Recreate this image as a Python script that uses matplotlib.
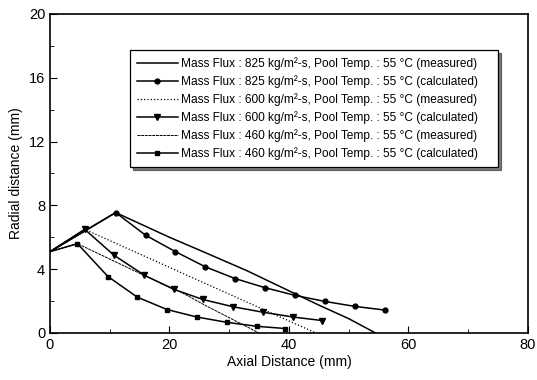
import matplotlib.pyplot as plt
from matplotlib.ticker import MultipleLocator

plt.rcParams['font.family'] = ['Liberation Sans', 'DejaVu Sans']

# 825 kg/m2-s
x_825_meas = [0, 11, 20, 25, 33, 45, 50, 54.5]
y_825_meas = [5.1, 7.55, 6.0, 5.2, 3.9, 1.75, 0.9, 0]
x_825_calc = [0, 11, 16, 21, 26, 31, 36, 41, 46, 51, 56]
y_825_calc = [5.1, 7.55, 6.13, 5.1, 4.15, 3.41, 2.84, 2.36, 1.98, 1.67, 1.44]

# 600 kg/m2-s
x_600_meas = [0, 5.8, 44.5]
y_600_meas = [5.1, 6.5, 0]
x_600_calc = [0, 5.8, 10.7, 15.8, 20.7, 25.6, 30.7, 35.7, 40.7, 45.6]
y_600_calc = [5.1, 6.5, 4.88, 3.62, 2.74, 2.1, 1.64, 1.3, 1.0, 0.78]

# 460 kg/m2-s
x_460_meas = [0, 4.6, 15.8, 22, 26, 35]
y_460_meas = [5.1, 5.6, 3.6, 2.55, 1.73, 0]
x_460_calc = [0, 4.6, 9.7, 14.6, 19.6, 24.6, 29.6, 34.6, 39.4]
y_460_calc = [5.1, 5.6, 3.54, 2.25, 1.47, 1.0, 0.67, 0.42, 0.28]

lab = 'Mass Flux : {} kg/m\u00b2-s, Pool Temp. : 55 \u00b0C ({})    '

fig = plt.figure(figsize=(5.37, 3.80), dpi=100)
ax = fig.add_axes([0.0931, 0.1237, 0.8899, 0.8395])

ax.plot(x_825_meas, y_825_meas, '-', color='k', lw=1.1, label=lab.format(825, 'measured'))
ax.plot(x_825_calc, y_825_calc, '-', color='k', lw=1.1, marker='o', ms=3.5,
        markevery=slice(1, None), label=lab.format(825, 'calculated'))
ax.plot(x_600_meas, y_600_meas, ':', color='k', lw=0.9, label=lab.format(600, 'measured'))
ax.plot(x_600_calc, y_600_calc, '-', color='k', lw=1.1, marker='v', ms=4,
        markevery=slice(1, None), label=lab.format(600, 'calculated'))
ax.plot(x_460_meas, y_460_meas, color='k', lw=0.7, dashes=(3, 0.8),
        label=lab.format(460, 'measured'))
ax.plot(x_460_calc, y_460_calc, '-', color='k', lw=1.1, marker='s', ms=3.2,
        markevery=slice(1, None), label=lab.format(460, 'calculated'))

ax.set_xlim(0, 80)
ax.set_ylim(0, 20)
ax.xaxis.set_major_locator(MultipleLocator(20))
ax.xaxis.set_minor_locator(MultipleLocator(10))
ax.yaxis.set_major_locator(MultipleLocator(4))
ax.yaxis.set_minor_locator(MultipleLocator(2))
ax.tick_params(which='both', direction='in', labelsize=10.5)
ax.tick_params(which='major', length=5)
ax.tick_params(which='minor', length=3)
for s in ax.spines.values():
    s.set_linewidth(1.2)

ax.set_xlabel('Axial Distance (mm)', fontsize=10, labelpad=2)
ax.set_ylabel('Radial distance (mm)', fontsize=10, labelpad=4)

leg = ax.legend(loc='upper left', bbox_to_anchor=(0.167, 0.887), borderaxespad=0,
                fontsize=8.6, frameon=True, fancybox=False, edgecolor='k',
                shadow={'color': 'k'}, handlelength=3.4, handletextpad=0.3,
                labelspacing=0.43, borderpad=0.6)
leg.get_frame().set_linewidth(0.9)

fig.savefig('out.png', dpi=100)
